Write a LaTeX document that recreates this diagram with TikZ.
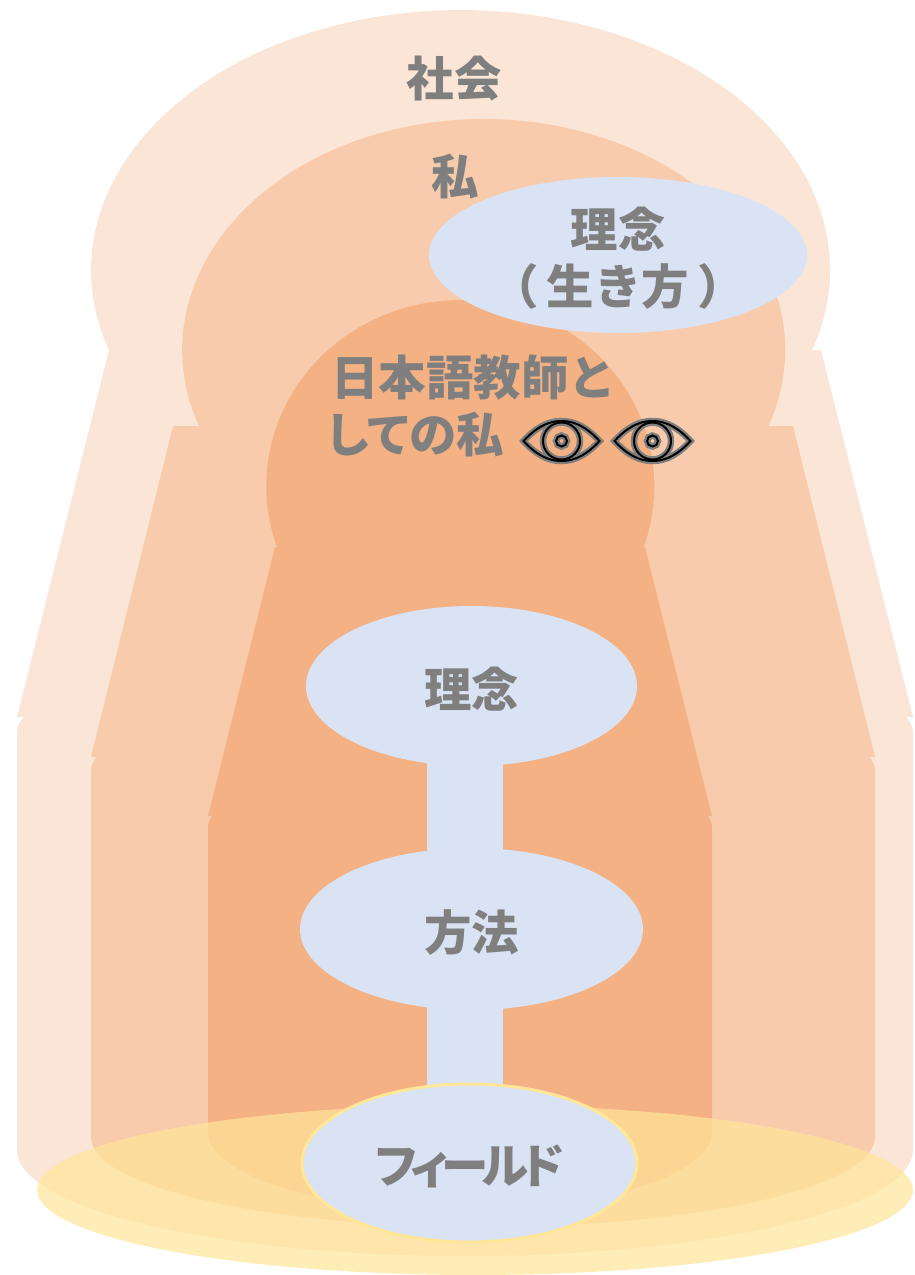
\documentclass[tikz,border=0pt]{standalone}
\usepackage{fontspec}
\setmainfont{Noto Sans CJK JP}
\newfontfamily\cjkprop[RawFeature=+palt,LetterSpace=-13]{Noto Sans CJK JP}
\newfontfamily\cjkkana[RawFeature=+palt]{Noto Sans CJK JP}
\usepackage{tikz}
\usetikzlibrary{shapes.geometric}
\pgfdeclarelayer{back}
\pgfsetlayers{back,main}
\definecolor{societyfill}{HTML}{FBE5D6}
\definecolor{selffill}{HTML}{F8CBAD}
\definecolor{teacherfill}{HTML}{F4B183}
\definecolor{fieldfill}{HTML}{FFE699}
\definecolor{bluefill}{HTML}{DAE3F3}
\definecolor{labelgray}{HTML}{7F7F7F}
\newcommand{\lowered}[1]{\raisebox{-2pt}[\height][\depth]{#1}}
\tikzset{
	labeltext/.style={text=labelgray,inner sep=0pt,font=\fontsize{27}{32.4}\selectfont\bfseries,align=center},
	blob/.style={shape=ellipse,fill=bluefill,inner sep=0pt,labeltext},
	stemline/.style={draw=bluefill,line width=1.52cm},
	eyehalo/.style={draw=labelgray,line width=.13cm},
	eyecore/.style={draw=black,line width=.04cm}
}
\begin{document}
\begin{tikzpicture}[x=.02cm,y=.02cm]
	\def\u{.02cm}
	\useasboundingbox (0,0) rectangle (914,-1275);
	\node[labeltext] (society) at (454,-79) {社会};
	\node[labeltext] (self) at (455,-177) {私};
	\node[blob,minimum width=378*\u,minimum height=156*\u] (lifeway) at (618,-255) {\lowered{理念}\\\lowered{（\hspace{4.5pt}生き方\hspace{4.5pt}）}};
	\node[labeltext,align=left,anchor=west] (teacher) at (331,-406) {日本語教師と\\\hspace{-2pt}{\cjkkana しての私}};
	\node[blob,minimum width=331*\u,minimum height=160*\u] (philosophy) at (471.5,-686) {\lowered{理念}};
	\node[blob,minimum width=343*\u,minimum height=162*\u] (method) at (471.5,-929) {\lowered{方法}};
	\node[blob,draw=fieldfill,line width=.06cm,minimum width=335*\u,minimum height=158*\u,font=\fontsize{27}{32.4}\selectfont\bfseries\cjkprop] (field) at (469.5,-1163) {\lowered{フィールド}};
	\begin{pgfonlayer}{back}
		\fill[societyfill] (17,-717) -- (109,-350)
			arc[start angle=197.9,end angle=-17.9,x radius=369.5,y radius=260]
			-- (821,-350) -- (913,-717) -- (906,-717) .. controls (911,-722) and (913,-727) .. (913,-735)
			-- (913,-1150) arc[start angle=0,end angle=-180,x radius=448,y radius=106]
			-- (17,-735) .. controls (17,-727) and (19,-722) .. (24,-717) -- cycle;
		\fill[selffill] (91,-757) -- (173,-426) -- (199,-426)
			arc[start angle=199.2,end angle=-19.2,x radius=301.5,y radius=231]
			-- (793,-426) -- (875,-757) -- (870,-757) .. controls (873,-762) and (875,-766) .. (875,-772)
			-- (875,-1137) arc[start angle=0,end angle=-180,x radius=392,y radius=90]
			-- (91,-772) .. controls (91,-766) and (93,-762) .. (96,-757) -- cycle;
		\fill[teacherfill] (208,-816) -- (275,-547) -- (277,-547)
			arc[start angle=199.1,end angle=-19.1,x radius=194,y radius=186]
			-- (645,-547) -- (712,-816) -- (708,-816) .. controls (711,-820) and (712,-823) .. (712,-828)
			-- (712,-1132) arc[start angle=0,end angle=-180,x radius=252,y radius=78]
			-- (208,-828) .. controls (208,-823) and (209,-820) .. (212,-816) -- cycle;
		\fill[fieldfill,opacity=.7] (475,-1190) ellipse [x radius=438,y radius=85];
		\draw[stemline] ([xshift=-.13cm]philosophy.center) -- ([xshift=-.13cm]method.center);
		\draw[stemline] ([xshift=-.13cm]method.center) -- ([xshift=-.09cm]field.center);
	\end{pgfonlayer}
	\foreach \cx in {561.5,652.5} {
		\foreach \st in {eyehalo,eyecore} {
			\draw[\st] (\cx-38,-441) .. controls (\cx-26,-428) and (\cx-14,-421) .. (\cx,-421)
				.. controls (\cx+14,-421) and (\cx+26,-428) .. (\cx+38,-441)
				.. controls (\cx+26,-454) and (\cx+14,-461) .. (\cx,-461)
				.. controls (\cx-14,-461) and (\cx-26,-454) .. (\cx-38,-441) -- cycle;
			\draw[\st] (\cx,-441) circle (18.5);
			\draw[\st] (\cx,-441) circle (5.5);
		}
	}
\end{tikzpicture}
\end{document}
